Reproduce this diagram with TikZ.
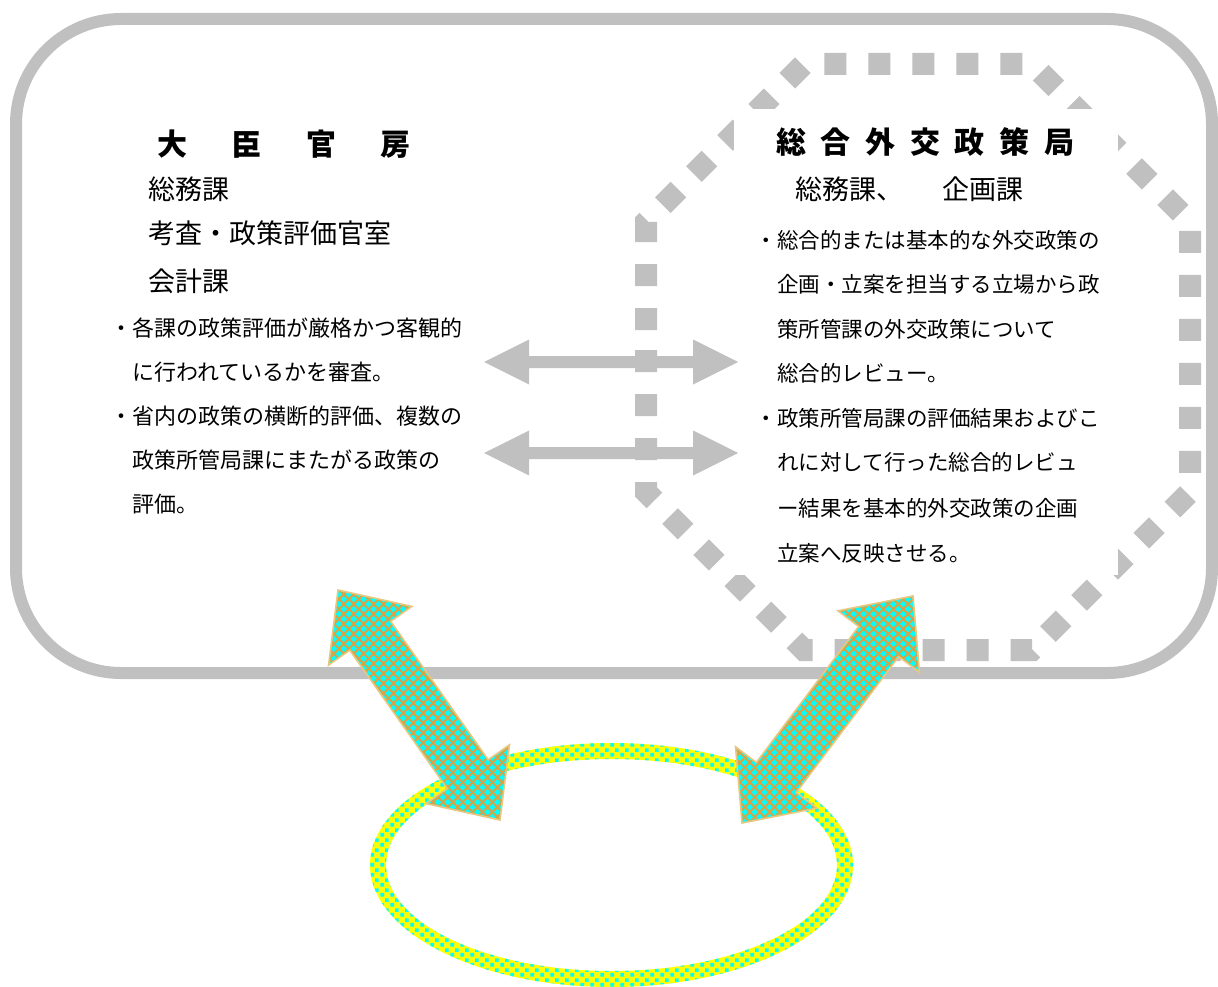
\documentclass[tikz,border=0pt]{standalone}
\usepackage{fontspec}
\setmainfont{Noto Sans CJK JP}
\usetikzlibrary{calc,patterns.meta}
\definecolor{lgray}{RGB}{192,192,192}
\definecolor{hatch}{RGB}{214,164,72}
\definecolor{aedge}{RGB}{232,200,128}
\definecolor{aqua}{RGB}{0,255,255}
\definecolor{yel}{RGB}{255,255,0}
\tikzdeclarepattern{
  name=ringcheck,
  type=uncolored,
  bounding box={(0pt,0pt) and (10pt,10pt)},
  tile size={(10pt,10pt)},
  code={
    \fill (0.5pt,0.5pt) rectangle (4.5pt,4.5pt);
    \fill (5.5pt,5.5pt) rectangle (9.5pt,9.5pt);
  }
}
% corner points of a double block arrow between tips #1 and #2
\newcommand{\dblpts}[5]{%
  \coordinate (#1-h) at ($(#1)!#3pt!(#2)$);
  \coordinate (#2-h) at ($(#2)!#3pt!(#1)$);
  \coordinate (#1-p1) at ($(#1-h)!#4pt!90:(#2)$);
  \coordinate (#1-p2) at ($(#1-h)!#5pt!90:(#2)$);
  \coordinate (#1-p3) at ($(#2-h)!#5pt!-90:(#1)$);
  \coordinate (#1-p4) at ($(#2-h)!#4pt!-90:(#1)$);
  \coordinate (#1-p5) at ($(#2-h)!#4pt!90:(#1)$);
  \coordinate (#1-p6) at ($(#2-h)!#5pt!90:(#1)$);
  \coordinate (#1-p7) at ($(#1-h)!#5pt!-90:(#2)$);
  \coordinate (#1-p8) at ($(#1-h)!#4pt!-90:(#2)$);
}
\newcommand{\grayblock}[2]{%
  \fill[grayarrow] (#1) -- (#1-p1) -- (#1-p2) -- (#1-p3) -- (#1-p4) -- (#2)
    -- (#1-p5) -- (#1-p6) -- (#1-p7) -- (#1-p8) -- cycle;
}
\newcommand{\tealblock}[2]{%
  \begin{scope}
    \clip (#1) -- (#1-p1) -- (#1-p2) -- (#1-p3) -- (#1-p4) -- (#2)
      -- (#1-p5) -- (#1-p6) -- (#1-p7) -- (#1-p8) -- cycle;
    \fill[aqua] (250,550) rectangle (980,870);
    \foreach \d in {-700,-690.1,...,600} {\draw[hatchline] (250,250+\d) -- (980,980+\d);}
    \foreach \s in {750,759.9,...,1900} {\draw[hatchline] (250,\s-250) -- (980,\s-980);}
  \end{scope}
  \draw[tealedge] (#1) -- (#1-p1) -- (#1-p2) -- (#1-p3) -- (#1-p4) -- (#2)
    -- (#1-p5) -- (#1-p6) -- (#1-p7) -- (#1-p8) -- cycle;
}
\tikzset{
  frame/.style={draw=lgray, line width=12pt, rounded corners=105pt},
  octa/.style={draw=lgray, line width=22pt, dash pattern=on 22pt off 22pt},
  grayarrow/.style={fill=lgray},
  hatchline/.style={draw=hatch, line width=2pt},
  tealedge/.style={draw=aedge, line width=1.6pt, line join=miter},
  txt/.style={anchor=base west, inner sep=0pt, text=black},
  ttl/.style={txt, font=\fontsize{30pt}{30pt}\selectfont\bfseries},
  sub/.style={txt, font=\fontsize{27pt}{27pt}\selectfont},
  bodyl/.style={txt, font=\fontsize{22pt}{22pt}\selectfont},
  bodyr/.style={txt, font=\fontsize{21.5pt}{21.5pt}\selectfont},
}
\begin{document}
\begin{tikzpicture}[x=1pt,y=-1pt]
\useasboundingbox (0,0) rectangle (1218,987);
\fill[white] (0,0) rectangle (1218,987);
% outer rounded frame
\draw[frame] (16,19) rectangle (1212,673);
% dotted octagon
\draw[octa] (646,350) -- (646,492) -- (804,650) -- (1032,650) -- (1190,492)
  -- (1190,222) -- (1032,64) -- (804,64) -- (646,222) -- cycle;
% white text box of the right block
\fill[white] (734,109) rectangle (1118,575);
% gray double arrows
\coordinate (g1a) at (484,362);
\coordinate (g1b) at (738,362);
\coordinate (g2a) at (484,453);
\coordinate (g2b) at (738,453);
\dblpts{g1a}{g1b}{45}{22.5}{6}
\dblpts{g2a}{g2b}{45}{22.5}{6}
\grayblock{g1a}{g1b}
\grayblock{g2a}{g2b}
% left block text
\node[ttl] (l0) at (157,155.4) {大\hspace{44.5pt}臣\hspace{44.5pt}官\hspace{44.5pt}房};
\node[sub] (l1) at (148,199.3) {総務課};
\node[sub] (l2) at (148,243.3) {考査・政策評価官室};
\node[sub] (l3) at (148,291.3) {会計課};
\node[bodyl] (l4) at (110,336.4) {・各課の政策評価が厳格かつ客観的};
\node[bodyl] (l5) at (132,380.4) {に行われているかを審査。};
\node[bodyl] (l6) at (110,424.4) {・省内の政策の横断的評価、複数の};
\node[bodyl] (l7) at (132,468.4) {政策所管局課にまたがる政策の};
\node[bodyl] (l8) at (132,512.4) {評価。};
% right block text
\node[ttl] (r0) at (776,153.4) {総\hspace{14.7pt}合\hspace{14.7pt}外\hspace{14.7pt}交\hspace{14.7pt}政\hspace{14.7pt}策\hspace{14.7pt}局};
\node[sub] (r1) at (795,199.3) {総務課、\hspace{39pt}企画課};
\node[bodyr] (r2) at (755.5,248.2) {・総合的または基本的な外交政策の};
\node[bodyr] (r3) at (777,292.2) {企画・立案を担当する立場から政};
\node[bodyr] (r4) at (777,337.2) {策所管課の外交政策について};
\node[bodyr] (r5) at (777,381.2) {総合的レビュー。};
\node[bodyr] (r6) at (755.5,426.2) {・政策所管局課の評価結果およびこ};
\node[bodyr] (r7) at (777,470.2) {れに対して行った総合的レビュ};
\node[bodyr] (r8) at (777,516.2) {ー結果を基本的外交政策の企画};
\node[bodyr] (r9) at (777,561.2) {立案へ反映させる。};
% patterned ring
\coordinate (ringc) at (611.5,865);
\path[fill=yel, even odd rule,
  postaction={even odd rule, pattern={ringcheck}, pattern color=aqua}]
  (ringc) ellipse [x radius=241.5, y radius=122]
  (ringc) ellipse [x radius=225.5, y radius=106];
% teal double block arrows
\coordinate (ta1) at (338,590);
\coordinate (ta2) at (500,820);
\coordinate (tb1) at (913,596);
\coordinate (tb2) at (742,823);
\dblpts{ta1}{ta2}{56}{51}{25}
\dblpts{tb1}{tb2}{57}{51}{25}
\tealblock{ta1}{ta2}
\tealblock{tb1}{tb2}
\end{tikzpicture}
\end{document}
